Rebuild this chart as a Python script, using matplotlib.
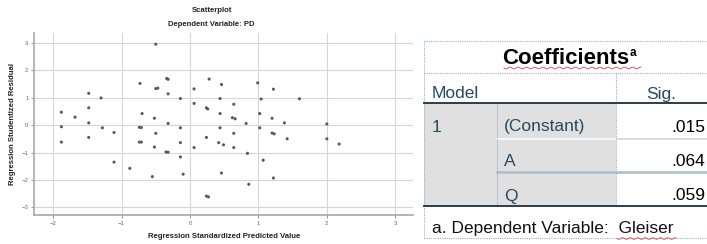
import numpy as np
import matplotlib
matplotlib.use("Agg")
import matplotlib.pyplot as plt
from matplotlib.patches import Rectangle

# ---------------- data ----------------
pred = [-0.50, -0.73, -0.50, -0.47, -1.48, -1.30, -1.48, -1.88, -1.68, -1.48,
        -0.70, -0.52, -1.88, -1.28, -1.11, -0.74, -0.71, -0.50, -1.88, -1.48,
        -0.74, -0.71, -0.52, -1.11, -0.88, -0.55, -0.34, -0.32, 0.28, 0.46,
        0.06, 0.99, 1.22, -0.32, -0.14, 0.44, 1.04, 0.06, 0.24, 0.26,
        0.64, 0.44, 0.62, 0.66, 1.02, 1.20, 0.82, 1.38, -0.32, -0.14,
        0.44, 1.02, 0.24, 0.64, 1.20, 1.23, 1.42, -0.14, 0.06, 0.42,
        0.49, 0.64, -0.35, -0.32, -0.14, 0.84, 1.07, -0.10, 0.46, 1.22,
        0.86, 0.24, 0.27, 2.00, 2.00, 2.18, 1.60]
resid = [2.95, 1.52, 1.33, 1.35, 1.16, 0.99, 0.63, 0.47, 0.29, 0.08,
         0.42, 0.25, -0.06, -0.10, -0.27, -0.08, -0.09, -0.30, -0.62, -0.45,
         -0.62, -0.62, -0.80, -1.35, -1.58, -1.88, 1.70, 1.67, 1.68, 1.48,
         1.32, 1.54, 1.31, 1.14, 0.97, 0.97, 0.95, 0.79, 0.63, 0.59,
         0.76, 0.42, 0.27, 0.23, 0.42, 0.25, 0.06, 0.08, 0.06, -0.10,
         -0.10, -0.10, -0.45, -0.30, -0.29, -0.32, -0.50, -0.64, -0.82, -0.64,
         -0.72, -0.82, -0.98, -0.99, -1.16, -1.03, -1.28, -1.79, -1.75, -1.93,
         -2.16, -2.59, -2.62, 0.04, -0.50, -0.69, 0.96]
xticks = [-2, -1, 0, 1, 2, 3]
yticks = [-3, -2, -1, 0, 1, 2, 3]

table_title = "Coefficients"
model_label = "1"
terms = ["(Constant)", "A", "Q"]
sig_values = [".015", ".064", ".059"]
footnote_prefix = "a. Dependent Variable:  "
footnote_dep = "Gleiser"

plt.rcParams['font.family'] = ['Liberation Sans', 'DejaVu Sans']

W, H = 707, 244
fig = plt.figure(figsize=(W / 100, H / 100), dpi=100)

# overlay axes in pixel coordinates (for texts / table)
ov = fig.add_axes([0, 0, 1, 1])
ov.set_xlim(0, W)
ov.set_ylim(H, 0)
ov.axis('off')
ov.patch.set_alpha(0)

# ---------------- scatter ----------------
L, R, T, B = 34, 413, 33, 215
ax = fig.add_axes([L / W, (H - B) / H, (R - L) / W, (B - T) / H])
ax.scatter(pred, resid, s=5, color='#5a5a5a', edgecolors='none', zorder=3)
ax.set_xlim(-2.28, 3.26)
ax.set_ylim(-3.28, 3.36)
ax.set_xticks(xticks)
ax.set_yticks(yticks)
ax.grid(True, color='#d6d6d6', lw=0.8)
ax.set_axisbelow(True)
for s in ['top', 'right']:
    ax.spines[s].set_visible(False)
for s in ['left', 'bottom']:
    ax.spines[s].set_color('#a8a8a8')
    ax.spines[s].set_linewidth(1.2)
ax.tick_params(labelsize=4.3, colors='#6a6a6a', length=2, width=0.5, pad=2)

ov.text(212, 10, "Scatterplot", ha='center', va='center', fontsize=5.6, fontweight='bold', color='#222222')
ov.text(211, 24, "Dependent Variable: PD", ha='center', va='center', fontsize=5.5, fontweight='bold', color='#222222')
ov.text(224, 236, "Regression Standardized Predicted Value", ha='center', va='center', fontsize=5.6,
        fontweight='bold', color='#222222')
ov.text(13, 124, "Regression Studentized Residual", ha='center', va='center', fontsize=5.6,
        fontweight='bold', color='#222222', rotation=90)

# ---------------- table ----------------
tl, tr = 424, 712
t_top, t_title_bot, t_head_bot, t_bot, t_foot_bot = 41, 73, 103, 206, 238
col1, col2 = 497, 616
row_lines = [139, 172]
dot = dict(color='#9aaecb', lw=0.8, ls=(0, (1, 1)))
text_blue = '#264a60'

# grey cells
ov.add_patch(Rectangle((tl, t_head_bot), col2 - tl, t_bot - t_head_bot, color='#e0e0e0', lw=0, zorder=1))

# dotted outer borders
ov.plot([tl, tl], [t_top, t_foot_bot], **dot)
ov.plot([tl, tr], [t_top, t_top], **dot)
ov.plot([tl, tr], [t_title_bot, t_title_bot], **dot)
ov.plot([tl, tr], [t_foot_bot, t_foot_bot], **dot)
ov.plot([col2, col2], [t_title_bot, t_bot], **dot, zorder=3)
ov.plot([col1, col1], [t_head_bot, t_bot], **dot, zorder=3)

# row lines
ov.plot([col1, tr], [row_lines[0], row_lines[0]], color='#d0d8e2', lw=1.2, zorder=2)
ov.plot([col1, tr], [row_lines[1], row_lines[1]], color='#aebccb', lw=1.8, zorder=2)
ov.plot([col1, col2], [row_lines[0], row_lines[0]], color='white', lw=1.2, zorder=2)
ov.plot([tl, tr], [t_head_bot, t_head_bot], color='#1e2e3c', lw=1.3, zorder=4)
ov.plot([tl, tr], [t_bot, t_bot], color='#1e2e3c', lw=1.3, zorder=4)

# title
ov.text(566, 59, table_title, ha='center', va='center', fontsize=16, fontweight='bold', color='black', zorder=5)
ov.text(630, 53, "a", ha='left', va='center', fontsize=8.5, fontweight='bold', color='black', zorder=5)
wx = np.linspace(504, 641, 200)
ov.plot(wx, 68 + 0.9 * np.sin((wx - 504) / 1.3), color='#e04040', lw=0.6, zorder=5)

# header
ov.text(432, 94, "Model", ha='left', va='center', fontsize=12.5, color=text_blue, zorder=5)
ov.text(661, 94, "Sig.", ha='center', va='center', fontsize=12.5, color=text_blue, zorder=5)

# body rows
row_y = [127, 162, 196]
ov.text(432, row_y[0], model_label, ha='left', va='center', fontsize=12.5, color=text_blue, zorder=5)
for y, term, sv in zip(row_y, terms, sig_values):
    ov.text(504, y, term, ha='left', va='center', fontsize=12.5, color=text_blue, zorder=5)
    ov.text(705, y, sv, ha='right', va='center', fontsize=12.5, color='black', zorder=5)

# footnote
ov.text(432, 229, footnote_prefix + footnote_dep, ha='left', va='center', fontsize=12.5,
        color='#111111', zorder=5)
gx = np.linspace(617, 676, 80)
ov.plot(gx, 238.5 + 0.8 * np.sin((gx - 617) / 1.2), color='#e04040', lw=0.6, zorder=5)

fig.savefig("out.png", dpi=100)
